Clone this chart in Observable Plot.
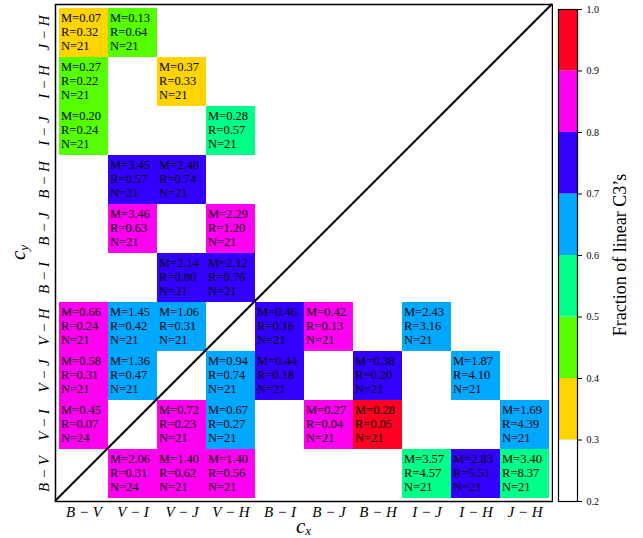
<!DOCTYPE html>
<html><head><meta charset="utf-8">
<script src="https://cdn.jsdelivr.net/npm/d3@7"></script>
<script src="https://cdn.jsdelivr.net/npm/@observablehq/plot@0.6"></script>
<style>
body{margin:0;background:#fff;}
#wrap{position:relative;width:643px;height:538px;overflow:hidden;}
#main{position:absolute;left:0;top:0;}
#cbar{position:absolute;left:553px;top:0;}
svg text{font-family:"Liberation Serif","DejaVu Serif",serif;}
</style></head><body><div id="wrap"><div id="main"></div><div id="cbar"></div></div>
<script>
const categories = ["B−V","V−I","V−J","V−H","B−I","B−J","B−H","I−J","I−H","J−H"];
const tickLabels = ["B − V","V − I","V − J","V − H","B − I","B − J","B − H","I − J","I − H","J − H"];

// cells: column (c_x), row (c_y), M, R, N, fraction of linear C3's (estimated within colour bin)
const cellX = ["B−V","V−I", "B−V","V−J", "B−V","V−H", "V−I","V−J", "V−I","V−H", "V−J","V−H",
  "B−V","V−I","V−J","B−I","B−J","I−J",
  "B−V","V−I","V−H","B−I","B−H","I−H",
  "B−V","V−J","V−H","B−J","B−H","J−H",
  "V−I","V−J","V−H","I−J","I−H","J−H"];
const cellY = ["J−H","J−H", "I−H","I−H", "I−J","I−J", "B−H","B−H", "B−J","B−J", "B−I","B−I",
  "V−H","V−H","V−H","V−H","V−H","V−H",
  "V−J","V−J","V−J","V−J","V−J","V−J",
  "V−I","V−I","V−I","V−I","V−I","V−I",
  "B−V","B−V","B−V","B−V","B−V","B−V"];
const cellM = [0.07,0.13, 0.27,0.37, 0.20,0.28, 3.45,2.48, 3.46,2.29, 2.14,2.12,
  0.66,1.45,1.06,0.46,0.42,2.43,
  0.58,1.36,0.94,0.44,0.38,1.87,
  0.45,0.72,0.67,0.27,0.28,1.69,
  2.06,1.40,1.40,3.57,2.83,3.40];
const cellR = [0.32,0.64, 0.22,0.33, 0.24,0.57, 0.57,0.74, 0.63,1.20, 0.80,0.76,
  0.24,0.42,0.31,0.16,0.13,3.16,
  0.31,0.47,0.74,0.18,0.20,4.10,
  0.07,0.23,0.27,0.04,0.05,4.39,
  0.31,0.62,0.56,4.57,5.51,8.37];
const cellN = [21,21, 21,21, 21,21, 21,21, 21,21, 21,21,
  21,21,21,21,21,21,
  21,21,21,21,21,21,
  24,21,21,21,21,21,
  24,21,21,21,21,21];
const cellFrac = [0.35,0.45, 0.45,0.35, 0.45,0.55, 0.75,0.75, 0.85,0.85, 0.75,0.75,
  0.85,0.65,0.65,0.75,0.85,0.65,
  0.85,0.65,0.65,0.75,0.75,0.65,
  0.85,0.85,0.65,0.85,0.95,0.65,
  0.85,0.85,0.85,0.55,0.75,0.55];

const binEdges = [0.2,0.3,0.4,0.5,0.6,0.7,0.8,0.9,1.0];
const binColors = ["#ffffff","#ffd400","#55ff00","#00ff88","#00a8ff","#3300ff","#ff00f0","#ff0022"];
const colorbarLabel = "Fraction of linear C3’s";

const cells = cellX.map((x, i) => ({x, y: cellY[i], M: cellM[i], R: cellR[i], N: cellN[i], frac: cellFrac[i]}));
const FONT = "Liberation Serif";

function diagonal(index, scales, values, dims) {
  return d3.create("svg:line")
    .attr("x1", dims.marginLeft).attr("y1", dims.height - dims.marginBottom)
    .attr("x2", dims.width - dims.marginRight).attr("y2", dims.marginTop)
    .attr("stroke", "black").attr("stroke-width", 2).node();
}
function axisTitles(index, scales, values, dims) {
  const g = d3.create("svg:g").attr("font-style", "italic").attr("fill", "black");
  const cx = (dims.marginLeft + dims.width - dims.marginRight) / 2;
  const cy = (dims.marginTop + dims.height - dims.marginBottom) / 2;
  const tx = g.append("text").attr("x", cx).attr("y", dims.height - 5).attr("text-anchor", "middle").attr("font-size", 21);
  tx.append("tspan").text("c");
  tx.append("tspan").attr("font-size", 13).attr("dy", 2).text("x");
  const ty = g.append("text").attr("transform", `translate(25,${cy}) rotate(-90)`).attr("text-anchor", "middle").attr("font-size", 21);
  ty.append("tspan").text("c");
  ty.append("tspan").attr("font-size", 13).attr("dy", 3).text("y");
  return g.node();
}

const main = Plot.plot({
  width: 553, height: 538,
  marginLeft: 55, marginRight: 1, marginTop: 4, marginBottom: 37,
  style: {background: "white"},
  x: {type: "band", domain: categories, padding: 0},
  y: {type: "band", domain: categories.slice().reverse(), padding: 0},
  color: {type: "threshold", domain: binEdges.slice(1, -1), range: binColors},
  marks: [
    Plot.cell(cells, {x: "x", y: "y", fill: "frac"}),
    Plot.text(cells, {x: "x", y: "y", text: d => `M=${d.M.toFixed(2)}\nR=${d.R.toFixed(2)}\nN=${d.N}`,
      textAnchor: "start", lineAnchor: "middle", lineHeight: 1.12, dx: -23, dy: -1, fontSize: 12.5, fill: "black", fontFamily: FONT}),
    diagonal,
    Plot.frame({stroke: "black", strokeWidth: 1.5}),
    Plot.axisX({tickSize: 0, tickPadding: 5, fontSize: 15, fontStyle: "italic", fontFamily: FONT, label: null,
      tickFormat: d => tickLabels[categories.indexOf(d)]}),
    Plot.axisY({tickSize: 0, tickPadding: 7, fontSize: 15, fontStyle: "italic", fontFamily: FONT, label: null, tickRotate: -90,
      tickFormat: d => tickLabels[categories.indexOf(d)]}),
    axisTitles
  ]
});
document.getElementById("main").appendChild(main);

const bins = binColors.map((c, i) => ({lo: binEdges[i], hi: binEdges[i + 1], c}));
function cbarTitle(index, scales, values, dims) {
  const cy = (dims.marginTop + dims.height - dims.marginBottom) / 2;
  return d3.create("svg:text").attr("transform", `translate(73,${cy}) rotate(-90)`)
    .attr("text-anchor", "middle").attr("font-size", 18).attr("fill", "black")
    .text(colorbarLabel).node();
}
const cbar = Plot.plot({
  width: 90, height: 538,
  marginLeft: 5, marginRight: 66, marginTop: 9, marginBottom: 37,
  style: {background: "transparent"},
  x: {domain: [0, 1], axis: null},
  y: {domain: [0.2, 1.0]},
  marks: [
    Plot.rect(bins, {x1: 0, x2: 1, y1: "lo", y2: "hi", fill: "c"}),
    Plot.frame({stroke: "black", strokeWidth: 1.2}),
    Plot.axisY({anchor: "right", ticks: binEdges, tickFormat: d3.format(".1f"), tickSize: 4, tickPadding: 5, fontSize: 10, fontFamily: FONT, label: null}),
    cbarTitle
  ]
});
document.getElementById("cbar").appendChild(cbar);
</script></body></html>
